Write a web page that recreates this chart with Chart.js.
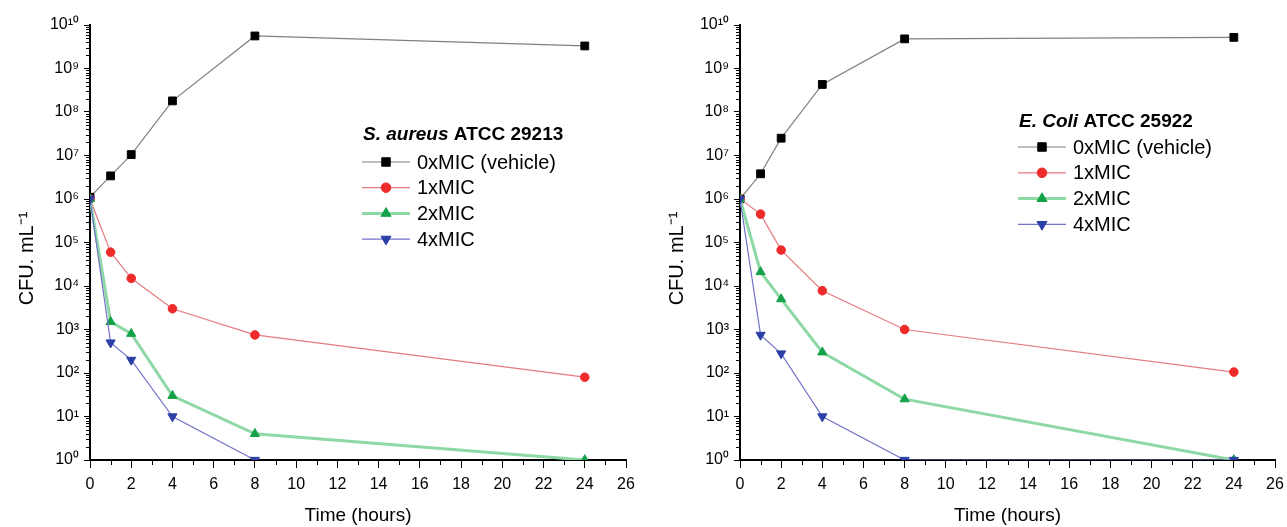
<!DOCTYPE html>
<html>
<head>
<meta charset="utf-8">
<script src="https://cdn.jsdelivr.net/npm/chart.js@4.4.0/dist/chart.umd.min.js"></script>
<style>
  html, body { margin: 0; padding: 0; background: #fff; }
  #left { position: absolute; left: 0; top: 0; width: 650px; height: 527px; }
  #right { position: absolute; left: 650px; top: 0; width: 637px; height: 527px; }
</style>
</head>
<body>
<div id="left"><canvas id="saChart"></canvas></div>
<div id="right"><canvas id="ecChart"></canvas></div>
<script>
// ---------- data ----------
var hours = [0, 1, 2, 4, 8, 24];
var xTicks = [0, 2, 4, 6, 8, 10, 12, 14, 16, 18, 20, 22, 24, 26];
var yTicks = [1, 1e1, 1e2, 1e3, 1e4, 1e5, 1e6, 1e7, 1e8, 1e9, 1e10];
var seriesNames = ["0xMIC (vehicle)", "1xMIC", "2xMIC", "4xMIC"];

// S. aureus ATCC 29213
var saVehicle = [1.1e6, 3.4e6, 1.05e7, 1.8e8, 5.6e9, 3.3e9];
var sa1x = [1e6, 6e4, 1.5e4, 3e3, 750, 80];
var sa2x = [1e6, 1500, 800, 30, 4, 1];
var sa4x = [1e6, 500, 200, 10, 1, null];

// E. coli ATCC 25922
var ecVehicle = [1e6, 3.8e6, 2.5e7, 4.3e8, 4.8e9, 5.2e9];
var ec1x = [1e6, 4.5e5, 6.7e4, 7.8e3, 1e3, 105];
var ec2x = [1e6, 2.1e4, 5e3, 300, 25, 1];
var ec4x = [1e6, 750, 280, 10, 1, 1];

var FONT = "'Liberation Sans', Arial, Helvetica, sans-serif";
var SUP = ["\u2070", "\u00b9", "\u00b2", "\u00b3", "\u2074", "\u2075", "\u2076", "\u2077", "\u2078", "\u2079"];

function supNum(n) {
  return String(n).split("").map(function (d) { return SUP[+d]; }).join("");
}

function toPoints(vals) {
  return hours.map(function (h, i) { return { x: h, y: vals[i] }; });
}

// series styles
var styles = [
  { line: "#808080", width: 1.2, fill: "#000000", shape: "rect", radius: 5.5, rot: 0 },
  { line: "#e57b80", width: 1.2, fill: "#ee2a2a", shape: "circle", radius: 4.3, rot: 0 },
  { line: "#8ed8a6", width: 3, fill: "#13a248", shape: "triangle", radius: 5.3, rot: 0 },
  { line: "#7272c8", width: 1.2, fill: "#2b3fa6", shape: "triangle", radius: 5.3, rot: 180 }
];

function makeDatasets(seriesList) {
  return seriesList.map(function (vals, i) {
    var s = styles[i];
    return {
      label: seriesNames[i],
      data: toPoints(vals),
      borderColor: s.line,
      borderWidth: s.width,
      pointStyle: s.shape,
      pointRadius: s.radius,
      pointRotation: s.rot,
      pointBackgroundColor: s.fill,
      pointBorderColor: s.fill,
      pointBorderWidth: 1,
      tension: 0,
      order: 3 - i
    };
  });
}

// minor ticks, y title and in-plot legend
var decorPlugin = {
  id: "decor",
  afterDraw: function (chart, args, opts) {
    var ctx = chart.ctx, area = chart.chartArea;
    var xs = chart.scales.x, ys = chart.scales.y;
    ctx.save();
    ctx.strokeStyle = "#000";
    ctx.lineWidth = 1;
    ctx.beginPath();
    for (var h = 1; h < 26; h += 2) {
      var px = Math.round(xs.getPixelForValue(h)) + 0.5;
      ctx.moveTo(px, area.bottom);
      ctx.lineTo(px, area.bottom + 5);
    }
    for (var e = 0; e < 10; e++) {
      for (var m = 2; m <= 9; m++) {
        var py = Math.round(ys.getPixelForValue(m * Math.pow(10, e))) + 0.5;
        ctx.moveTo(area.left - 4, py);
        ctx.lineTo(area.left, py);
      }
    }
    ctx.stroke();

    // y axis title, slightly below the middle as in the source figure
    ctx.save();
    ctx.translate(27, (area.top + area.bottom) / 2 + 16);
    ctx.rotate(-Math.PI / 2);
    ctx.fillStyle = "#000";
    ctx.textAlign = "center";
    ctx.textBaseline = "middle";
    ctx.font = "20px " + FONT;
    ctx.fillText("CFU. mL\u207b\u00b9", 0, 0);
    ctx.restore();

    // legend
    var lx = area.left + opts.x;
    var ty = area.top + opts.titleY;
    ctx.fillStyle = "#000";
    ctx.textBaseline = "alphabetic";
    ctx.textAlign = "left";
    ctx.font = "italic bold 19px " + FONT;
    ctx.fillText(opts.italic, lx + 1, ty);
    var w = ctx.measureText(opts.italic).width;
    ctx.font = "bold 19px " + FONT;
    ctx.fillText(opts.plain, lx + 1 + w, ty);

    chart.data.datasets.forEach(function (ds, i) {
      var cy = area.top + opts.rowY + i * opts.rowGap;
      ctx.strokeStyle = ds.borderColor;
      ctx.lineWidth = ds.borderWidth;
      ctx.beginPath();
      ctx.moveTo(lx, cy);
      ctx.lineTo(lx + 48, cy);
      ctx.stroke();
      ctx.fillStyle = ds.pointBackgroundColor;
      ctx.strokeStyle = ds.pointBorderColor;
      ctx.lineWidth = 1;
      Chart.helpers.drawPoint(ctx, {
        pointStyle: ds.pointStyle,
        radius: ds.pointRadius + 0.5,
        rotation: ds.pointRotation,
        borderWidth: 1
      }, lx + 24, cy);
      ctx.fillStyle = "#000";
      ctx.font = "20px " + FONT;
      ctx.textBaseline = "middle";
      ctx.fillText(ds.label, lx + 55, cy + 1);
    });
    ctx.restore();
  }
};

function makeOptions(legendOpts, padRight) {
  return {
    responsive: true,
    maintainAspectRatio: false,
    animation: false,
    layout: { padding: { top: 25, right: padRight, left: 0, bottom: 0 } },
    plugins: {
      legend: { display: false },
      tooltip: { enabled: false },
      decor: legendOpts
    },
    scales: {
      x: {
        type: "linear",
        min: 0,
        max: 26,
        afterBuildTicks: function (s) { s.ticks = xTicks.map(function (v) { return { value: v }; }); },
        afterFit: function (s) { s.height = 67; s.paddingRight = 0; },
        grid: { drawOnChartArea: false, color: "#000", tickLength: 8, lineWidth: 1 },
        border: { color: "#000", width: 2 },
        ticks: { color: "#000", font: { size: 16, family: FONT }, padding: 7, maxRotation: 0, autoSkip: false },
        title: { display: true, text: "Time (hours)", color: "#000", font: { size: 19, family: FONT }, padding: { top: 0, bottom: 0 } }
      },
      y: {
        type: "logarithmic",
        min: 1,
        max: 1e10,
        afterBuildTicks: function (s) { s.ticks = yTicks.map(function (v) { return { value: v }; }); },
        afterFit: function (s) { s.width = 90; },
        grid: { drawOnChartArea: false, color: "#000", tickLength: 6, lineWidth: 1 },
        border: { color: "#000", width: 2 },
        ticks: {
          color: "#000",
          font: { size: 16, family: FONT },
          padding: 5,
          autoSkip: false,
          callback: function (v) { return "10" + supNum(Math.round(Math.log10(v))); }
        },
        title: { display: false }
      }
    }
  };
}

new Chart(document.getElementById("saChart"), {
  type: "line",
  data: { datasets: makeDatasets([saVehicle, sa1x, sa2x, sa4x]) },
  options: makeOptions({ italic: "S. aureus", plain: " ATCC 29213", x: 272, titleY: 115, rowY: 137, rowGap: 25.7 }, 24),
  plugins: [decorPlugin]
});

new Chart(document.getElementById("ecChart"), {
  type: "line",
  data: { datasets: makeDatasets([ecVehicle, ec1x, ec2x, ec4x]) },
  options: makeOptions({ italic: "E. Coli", plain: " ATCC 25922", x: 278, titleY: 102, rowY: 122, rowGap: 25.8 }, 12),
  plugins: [decorPlugin]
});
</script>
</body>
</html>
